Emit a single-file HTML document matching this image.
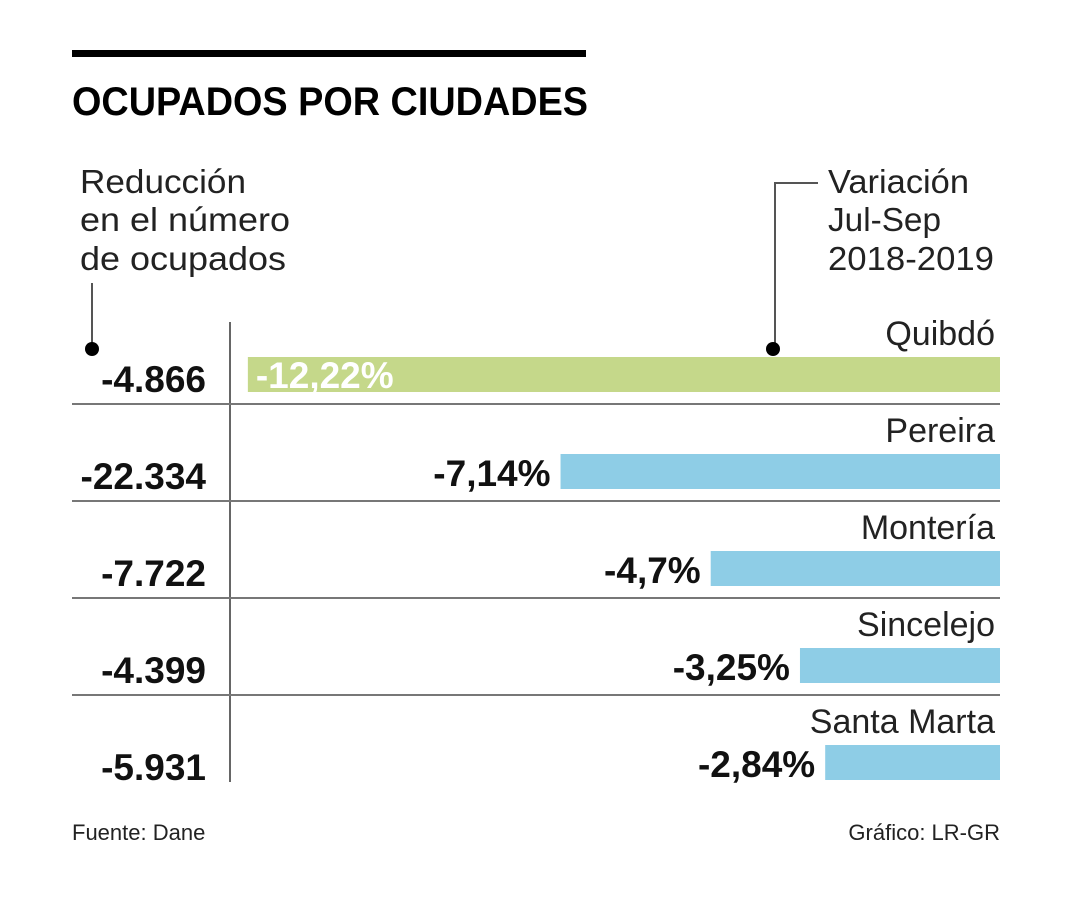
<!DOCTYPE html>
<html><head><meta charset="utf-8"><style>
html,body{margin:0;padding:0;background:#fff}
svg{display:block;font-family:"Liberation Sans",sans-serif}
</style></head><body>
<svg width="1080" height="900" viewBox="0 0 1080 900">
<rect x="72" y="50" width="514" height="7" fill="#000"/>
<text x="72" y="115" font-size="40" font-weight="bold" textLength="516" lengthAdjust="spacingAndGlyphs">OCUPADOS POR CIUDADES</text>
<g font-size="33" fill="#222">
<text x="80" y="193" textLength="166" lengthAdjust="spacingAndGlyphs">Reducción</text>
<text x="80" y="231" textLength="210" lengthAdjust="spacingAndGlyphs">en el número</text>
<text x="80" y="270" textLength="206" lengthAdjust="spacingAndGlyphs">de ocupados</text>
</g>
<line x1="92" y1="283" x2="92" y2="345" stroke="#555" stroke-width="2"/>
<circle cx="92" cy="349" r="7" fill="#000"/>
<g font-size="33" fill="#222">
<text x="828" y="193" textLength="141" lengthAdjust="spacingAndGlyphs">Variación</text>
<text x="828" y="231" textLength="113" lengthAdjust="spacingAndGlyphs">Jul-Sep</text>
<text x="828" y="270" textLength="166" lengthAdjust="spacingAndGlyphs">2018-2019</text>
</g>
<polyline points="818,183 775,183 775,345" fill="none" stroke="#555" stroke-width="2"/>
<circle cx="773" cy="349" r="7" fill="#000"/>
<line x1="230" y1="322" x2="230" y2="782" stroke="#666" stroke-width="2"/>
<g id="rows"></g>
<text x="72" y="840" font-size="22" fill="#222">Fuente: Dane</text>
<text x="1000" y="840" font-size="22" fill="#222" text-anchor="end">Gráfico: LR-GR</text>
</svg>
<script>
const cities=["Quibdó","Pereira","Montería","Sincelejo","Santa Marta"];
const variation=[12.22,7.14,4.7,3.25,2.84];
const pctLabels=["-12,22%","-7,14%","-4,7%","-3,25%","-2,84%"];
const counts=["-4.866","-22.334","-7.722","-4.399","-5.931"];
const NS="http://www.w3.org/2000/svg";
const g=document.getElementById('rows');
const xR=1000, scale=61.55, top0=357, pitch=97, bh=35;
function mk(t,a){const e=document.createElementNS(NS,t);for(const k in a)e.setAttribute(k,a[k]);g.appendChild(e);return e;}
cities.forEach((c,i)=>{
  const y=top0+i*pitch, w=variation[i]*scale, x=xR-w;
  const r=mk('rect',{x:x,y:y,width:w,height:bh,fill:i===0?'#c5d88a':'#8ecde6'});
  
  
  const cl=mk('text',{x:995,y:y-12,'font-size':34,'text-anchor':'end',fill:'#222'});cl.textContent=c;
  
  
  let pl;
  if(i===0){pl=mk('text',{x:x+8,y:y+31,'font-size':37,'font-weight':'bold',fill:'#fff'});}
  else{pl=mk('text',{x:x-10,y:y+32,'font-size':37,'font-weight':'bold','text-anchor':'end',fill:'#111'});}
  pl.textContent=pctLabels[i];
  
  
  const nl=mk('text',{x:206,y:y+35,'font-size':37,'font-weight':'bold','text-anchor':'end',fill:'#111'});nl.textContent=counts[i];
  
  
  if(i<cities.length-1){const l=mk('line',{x1:72,x2:1000,y1:y+47,y2:y+47,stroke:'#777','stroke-width':2});
  
  }
});
</script>
</body></html>
